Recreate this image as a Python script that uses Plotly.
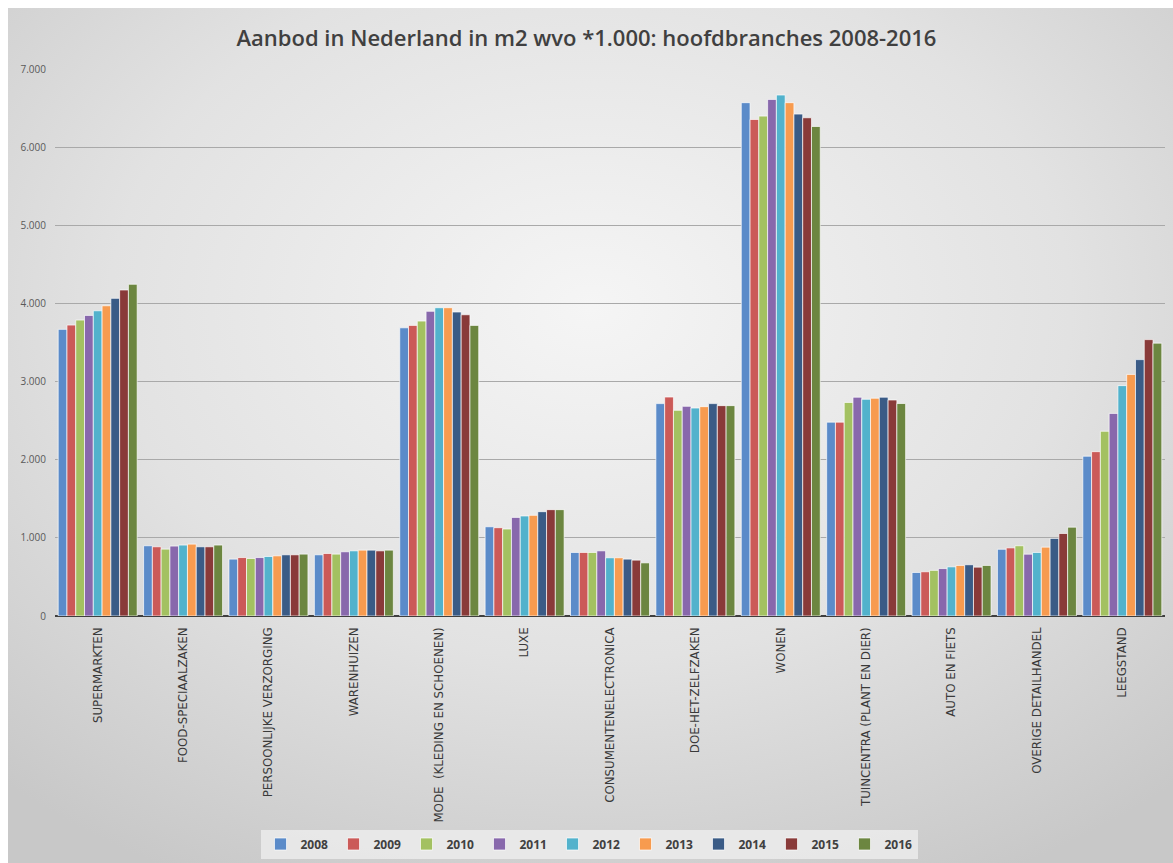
import base64
import plotly.graph_objects as go

categories = [
    "SUPERMARKTEN", "FOOD-SPECIAALZAKEN", "PERSOONLIJKE VERZORGING", "WARENHUIZEN",
    "MODE  (KLEDING EN SCHOENEN)", "LUXE", "CONSUMENTENELECTRONICA", "DOE-HET-ZELFZAKEN",
    "WONEN", "TUINCENTRA (PLANT EN DIER)", "AUTO EN FIETS", "OVERIGE DETAILHANDEL", "LEEGSTAND",
]

years = ["2008", "2009", "2010", "2011", "2012", "2013", "2014", "2015", "2016"]

# values per category, one per year (2008..2016), in m2 wvo * 1.000
supermarkten = [3668, 3723, 3787, 3847, 3906, 3970, 4065, 4172, 4245]
food = [899, 886, 856, 895, 908, 920, 886, 886, 908]
persoonlijk = [728, 748, 736, 748, 761, 770, 783, 783, 792]
warenhuizen = [783, 800, 792, 822, 834, 843, 843, 834, 843]
mode = [3688, 3719, 3774, 3899, 3945, 3945, 3890, 3855, 3719]
luxe = [1142, 1130, 1113, 1262, 1280, 1288, 1335, 1361, 1361]
consument = [813, 813, 813, 834, 745, 745, 728, 715, 680]
dhz = [2718, 2802, 2632, 2683, 2661, 2679, 2718, 2692, 2692]
wonen = [6569, 6354, 6397, 6611, 6667, 6569, 6423, 6376, 6264]
tuincentra = [2481, 2481, 2733, 2800, 2773, 2787, 2800, 2764, 2719]
auto = [557, 566, 584, 607, 629, 647, 656, 625, 647]
overige = [854, 872, 899, 791, 813, 881, 993, 1056, 1137]
leegstand = [2045, 2103, 2364, 2593, 2948, 3092, 3281, 3537, 3492]

by_category = [supermarkten, food, persoonlijk, warenhuizen, mode, luxe, consument,
               dhz, wonen, tuincentra, auto, overige, leegstand]

colors = ["#5B8BC9", "#CB5A58", "#A3C161", "#8868AC", "#52B2CC", "#F79B4F",
          "#3A5B86", "#893A39", "#6C8640"]

y_ticks = [0, 1000, 2000, 3000, 4000, 5000, 6000, 7000]
y_tick_labels = ["0", "1.000", "2.000", "3.000", "4.000", "5.000", "6.000", "7.000"]

W, H = 1173, 863
ML, MR, MT, MB = 55, 8, 69, 247
PW, PH = W - ML - MR, H - MT - MB

fig = go.Figure()
for i, yr in enumerate(years):
    fig.add_trace(go.Bar(
        name=yr,
        x=categories,
        y=[vals[i] for vals in by_category],
        marker=dict(color=colors[i], line=dict(color="rgba(255,255,255,0.85)", width=0.8)),
    ))

# gradient background via inline SVG
svg = (
    '<svg xmlns="http://www.w3.org/2000/svg" width="1165" height="855" viewBox="0 0 1165 855" preserveAspectRatio="none">'
    '<defs><radialGradient id="g" cx="50%" cy="35%" r="75%">'
    '<stop offset="0%" stop-color="#F5F5F5"/><stop offset="55%" stop-color="#E2E2E2"/>'
    '<stop offset="100%" stop-color="#C8C8C8"/></radialGradient></defs>'
    '<rect width="1165" height="855" fill="url(#g)"/></svg>'
)
src = "data:image/svg+xml;base64," + base64.b64encode(svg.encode()).decode()

fig.add_layout_image(dict(
    source=src, xref="paper", yref="paper",
    x=(8 - ML) / PW, y=(H - MB - 8) / PH,
    sizex=(W - 8) / PW, sizey=(H - 8) / PH,
    xanchor="left", yanchor="top", sizing="stretch", layer="below",
))

fig.update_layout(
    width=W, height=H,
    margin=dict(l=ML, r=MR, t=MT, b=MB, autoexpand=False),
    paper_bgcolor="white",
    plot_bgcolor="rgba(0,0,0,0)",
    font=dict(family="Open Sans, Liberation Sans, sans-serif", color="#595959", size=11),
    title=dict(
        text="Aanbod in Nederland in m2 wvo *1.000: hoofdbranches 2008-2016",
        x=0.5, xref="container", xanchor="center",
        y=1 - 38 / H, yref="container", yanchor="middle",
        font=dict(size=22, color="#404040", family="Open Sans, sans-serif", weight=600),
    ),
    barmode="group",
    bargap=0.075,
    bargroupgap=0,
    showlegend=True,
    legend=dict(
        orientation="h", x=(589 - ML) / PW, xanchor="center",
        y=(H - MB - 844) / PH, yanchor="middle",
        bgcolor="rgba(234,234,234,0.9)",
        font=dict(size=12, color="#404040", family="Open Sans, sans-serif", weight="bold"),
        itemwidth=30, entrywidth=28, entrywidthmode="pixels",
        traceorder="normal",
    ),
    xaxis=dict(
        tickangle=-90, tickfont=dict(size=11.8, color="#3A3A3A", family="DejaVu Sans, sans-serif"),
        showgrid=False, showline=False, ticks="", ticklabelstandoff=8,
    ),
    yaxis=dict(
        range=[0, 7000], tickvals=y_ticks, ticktext=y_tick_labels,
        tickfont=dict(size=10, color="#595959"),
        showgrid=True, gridcolor="#A9A9A9", gridwidth=1,
        zeroline=True, zerolinecolor="#3F3F3F", zerolinewidth=2,
        showline=False, ticks="", ticklabelstandoff=8,
    ),
)

fig.write_html("out.html")
